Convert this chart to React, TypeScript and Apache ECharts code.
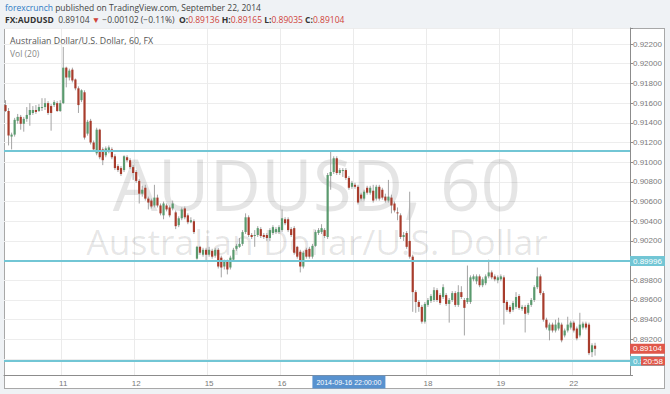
import React, { useEffect, useRef } from "react";
import * as echarts from "echarts";

type Bar = [number, number, number, number]; // open, close, low, high

const sep10: Bar[] = [
  [0.9158, 0.9152, 0.9151, 0.9163], [0.9152, 0.9127, 0.9117, 0.9155], [0.9126, 0.9128, 0.9113, 0.913],
  [0.9128, 0.9143, 0.9126, 0.9145], [0.9142, 0.9146, 0.9139, 0.9149], [0.9146, 0.9139, 0.9133, 0.9148],
  [0.9139, 0.9144, 0.9131, 0.9146], [0.9144, 0.9148, 0.9141, 0.9156], [0.9148, 0.9153, 0.9137, 0.916],
  [0.915, 0.9153, 0.9148, 0.9157], [0.9153, 0.9151, 0.9149, 0.9158], [0.9152, 0.9156, 0.9151, 0.9159],
  [0.9155, 0.9156, 0.9152, 0.9165], [0.9156, 0.916, 0.9153, 0.9165], [0.916, 0.915, 0.9148, 0.9162],
  [0.9157, 0.915, 0.9132, 0.9159], [0.9158, 0.9161, 0.9156, 0.9163], [0.916, 0.9152, 0.9151, 0.9162],
  [0.9152, 0.916, 0.9151, 0.9163],
];
const sep11: Bar[] = [
  [0.916, 0.9196, 0.9159, 0.9217], [0.9196, 0.9186, 0.9176, 0.9197], [0.9186, 0.9193, 0.9183, 0.9195],
  [0.9194, 0.9183, 0.9181, 0.9196], [0.9184, 0.9175, 0.9173, 0.9185], [0.9175, 0.9158, 0.915, 0.9177],
  [0.9163, 0.9173, 0.9161, 0.9174], [0.9171, 0.9125, 0.9123, 0.9173], [0.9129, 0.9141, 0.9127, 0.9143],
  [0.9142, 0.912, 0.9118, 0.9144], [0.912, 0.9113, 0.9111, 0.9122], [0.9109, 0.9133, 0.9107, 0.9135],
  [0.9133, 0.9105, 0.9103, 0.9134], [0.9113, 0.9102, 0.9097, 0.9115], [0.9107, 0.9114, 0.9105, 0.9116],
  [0.9112, 0.9115, 0.9109, 0.9117], [0.9113, 0.9105, 0.9103, 0.9115], [0.9106, 0.9094, 0.9092, 0.9108],
  [0.9096, 0.9092, 0.909, 0.9098], [0.9094, 0.9088, 0.9086, 0.9096], [0.9092, 0.9106, 0.909, 0.9107],
  [0.9105, 0.9102, 0.91, 0.9107], [0.9102, 0.9095, 0.9093, 0.9104], [0.9095, 0.9089, 0.9082, 0.9097],
];
const sep12: Bar[] = [
  [0.909, 0.9081, 0.9079, 0.9092], [0.9081, 0.9068, 0.9058, 0.9083], [0.9068, 0.9072, 0.9065, 0.9076],
  [0.9074, 0.9063, 0.9061, 0.9077], [0.9063, 0.9059, 0.9052, 0.9065], [0.9061, 0.9055, 0.9053, 0.9063],
  [0.9056, 0.9064, 0.9054, 0.9077], [0.9064, 0.9056, 0.9054, 0.9067], [0.9056, 0.9048, 0.9046, 0.9058],
  [0.9046, 0.9058, 0.9042, 0.906], [0.9056, 0.9052, 0.905, 0.9058], [0.9054, 0.9046, 0.9044, 0.9056],
  [0.9053, 0.9058, 0.9051, 0.9061], [0.9049, 0.9035, 0.9032, 0.9051], [0.9036, 0.9043, 0.9034, 0.9045],
  [0.9043, 0.9052, 0.9041, 0.9054], [0.9053, 0.9044, 0.9042, 0.9055], [0.9046, 0.9039, 0.9037, 0.9048],
  [0.9039, 0.9041, 0.9038, 0.9044], [0.904, 0.9029, 0.9027, 0.9042], [0.9002, 0.9014, 0.9001, 0.9015],
  [0.9014, 0.9008, 0.9006, 0.9015], [0.9006, 0.9011, 0.9004, 0.9013], [0.9011, 0.9006, 0.8999, 0.9013],
];
const sep15: Bar[] = [
  [0.9006, 0.9011, 0.9004, 0.9014], [0.901, 0.9004, 0.9002, 0.9012], [0.9005, 0.9011, 0.9003, 0.9013],
  [0.9011, 0.8994, 0.8992, 0.9013], [0.9003, 0.8993, 0.8983, 0.9005], [0.8994, 0.8999, 0.8991, 0.9001],
  [0.8999, 0.8991, 0.8986, 0.9001], [0.8993, 0.9003, 0.8991, 0.9005], [0.9001, 0.9011, 0.8999, 0.9013],
  [0.9012, 0.9015, 0.901, 0.9017], [0.9014, 0.9017, 0.9013, 0.9023], [0.9017, 0.9029, 0.9015, 0.9031],
  [0.9029, 0.9044, 0.9027, 0.9048], [0.9044, 0.9026, 0.9024, 0.9046], [0.9026, 0.9024, 0.9022, 0.9028],
  [0.9025, 0.9026, 0.9014, 0.9031], [0.9026, 0.9033, 0.9024, 0.9035], [0.9032, 0.9025, 0.9023, 0.9034],
  [0.9026, 0.9024, 0.9022, 0.9028], [0.9026, 0.9023, 0.902, 0.9028], [0.9023, 0.9031, 0.902, 0.9033],
  [0.9028, 0.9034, 0.9026, 0.9036], [0.9029, 0.9032, 0.9027, 0.9034], [0.9029, 0.9034, 0.9027, 0.9036],
];
const sep16: Bar[] = [
  [0.9031, 0.9043, 0.9029, 0.9052], [0.9042, 0.9038, 0.9036, 0.9044], [0.9042, 0.9031, 0.9029, 0.9044],
  [0.9032, 0.9026, 0.9024, 0.9034], [0.9033, 0.9008, 0.9006, 0.9035], [0.9014, 0.9004, 0.9002, 0.9015],
  [0.9009, 0.8994, 0.8988, 0.9011], [0.8994, 0.9008, 0.8992, 0.901], [0.9011, 0.9004, 0.9002, 0.9013],
  [0.9012, 0.9004, 0.9002, 0.9014], [0.9004, 0.9015, 0.9002, 0.9017], [0.9015, 0.9029, 0.9014, 0.9031],
  [0.9028, 0.9031, 0.9026, 0.9033], [0.9029, 0.9033, 0.9027, 0.9037], [0.9031, 0.9025, 0.9023, 0.9033],
  [0.9024, 0.9087, 0.9022, 0.9089], [0.9086, 0.909, 0.9072, 0.9111], [0.909, 0.9104, 0.9088, 0.9106],
  [0.9104, 0.9089, 0.9087, 0.9106], [0.9089, 0.9092, 0.9087, 0.9094], [0.9091, 0.9092, 0.9085, 0.9094],
  [0.9092, 0.9084, 0.9082, 0.9094], [0.9084, 0.9074, 0.9072, 0.9086], [0.9075, 0.9079, 0.9073, 0.9081],
];
const sep17: Bar[] = [
  [0.9077, 0.9075, 0.9073, 0.9079], [0.9075, 0.9059, 0.9057, 0.9077], [0.9067, 0.9063, 0.9061, 0.9069],
  [0.9063, 0.907, 0.9061, 0.9072], [0.9074, 0.9069, 0.9067, 0.9076], [0.9069, 0.9074, 0.9067, 0.9076],
  [0.9071, 0.9061, 0.9059, 0.9077], [0.9063, 0.9075, 0.9061, 0.9077], [0.9075, 0.9063, 0.9061, 0.9077],
  [0.9072, 0.9064, 0.9062, 0.9074], [0.9065, 0.9061, 0.9059, 0.9068], [0.9061, 0.9065, 0.9059, 0.9082],
  [0.9064, 0.9056, 0.9048, 0.9067], [0.9058, 0.9051, 0.9049, 0.906], [0.9049, 0.9048, 0.9041, 0.9054],
  [0.9046, 0.9024, 0.9022, 0.9048], [0.9024, 0.9026, 0.902, 0.9029], [0.9028, 0.9014, 0.9012, 0.903],
  [0.902, 0.9004, 0.9002, 0.907], [0.9004, 0.8968, 0.8948, 0.9006], [0.8968, 0.8958, 0.8947, 0.897],
  [0.8958, 0.8953, 0.8948, 0.896], [0.8953, 0.8938, 0.8936, 0.8955], [0.8938, 0.8956, 0.8936, 0.8958],
];
const sep18: Bar[] = [
  [0.8955, 0.896, 0.8953, 0.8962], [0.8959, 0.8964, 0.8957, 0.8966], [0.896, 0.897, 0.8958, 0.8973],
  [0.897, 0.896, 0.8958, 0.8972], [0.8965, 0.8957, 0.8955, 0.8967], [0.8963, 0.8973, 0.8961, 0.8976],
  [0.8965, 0.8956, 0.8954, 0.8967], [0.8956, 0.896, 0.8937, 0.8962], [0.896, 0.8967, 0.8958, 0.8969],
  [0.8967, 0.8955, 0.8953, 0.8969], [0.8955, 0.8968, 0.8953, 0.8975], [0.8968, 0.8963, 0.8961, 0.8974],
  [0.896, 0.8952, 0.8924, 0.8962], [0.8958, 0.8962, 0.8956, 0.8995], [0.8958, 0.8983, 0.8956, 0.8985],
  [0.8981, 0.8984, 0.8979, 0.8986], [0.8979, 0.8984, 0.8976, 0.8986], [0.8984, 0.8975, 0.8973, 0.8986],
  [0.8975, 0.8981, 0.8973, 0.8983], [0.8977, 0.8984, 0.8975, 0.8986], [0.8984, 0.8988, 0.8982, 0.9001],
  [0.8988, 0.8983, 0.8981, 0.899], [0.8984, 0.8981, 0.8979, 0.8986], [0.898, 0.8983, 0.8977, 0.8985],
];
const sep19: Bar[] = [
  [0.8981, 0.8984, 0.8979, 0.8986], [0.8983, 0.8957, 0.8935, 0.8985], [0.8958, 0.895, 0.8948, 0.896],
  [0.8953, 0.8948, 0.8946, 0.8955], [0.895, 0.8957, 0.8948, 0.8959], [0.8953, 0.8963, 0.8951, 0.8968],
  [0.8964, 0.8952, 0.895, 0.8966], [0.8951, 0.8953, 0.8949, 0.8955], [0.8953, 0.8946, 0.8927, 0.8955],
  [0.8947, 0.8955, 0.8945, 0.8957], [0.8955, 0.896, 0.8953, 0.8962], [0.896, 0.8973, 0.8958, 0.8975],
  [0.8973, 0.8984, 0.8971, 0.8993], [0.8984, 0.8967, 0.8965, 0.8986], [0.8967, 0.894, 0.8938, 0.8969],
  [0.894, 0.8932, 0.893, 0.8942], [0.8929, 0.8935, 0.8919, 0.8937], [0.8935, 0.8929, 0.8927, 0.8937],
  [0.8929, 0.8935, 0.8927, 0.894], [0.8931, 0.8937, 0.8929, 0.8942], [0.8935, 0.8919, 0.8917, 0.8937],
  [0.8924, 0.8929, 0.8922, 0.8931], [0.8929, 0.8935, 0.8927, 0.8943], [0.8932, 0.8937, 0.893, 0.8939],
];
const sep22: Bar[] = [
  [0.8937, 0.8929, 0.8927, 0.8939], [0.8931, 0.8921, 0.8919, 0.8933], [0.8924, 0.8935, 0.8922, 0.8947],
  [0.8932, 0.8936, 0.893, 0.8938], [0.8936, 0.8932, 0.893, 0.8938], [0.8935, 0.8906, 0.8904, 0.8937],
  [0.8907, 0.8914, 0.8902, 0.8916], [0.89136, 0.89104, 0.89035, 0.89165],
];

const sessions = [
  { date: "2014-09-10", firstHour: 5, bars: sep10 },
  { date: "2014-09-11", firstHour: 0, bars: sep11 },
  { date: "2014-09-12", firstHour: 0, bars: sep12 },
  { date: "2014-09-15", firstHour: 0, bars: sep15 },
  { date: "2014-09-16", firstHour: 0, bars: sep16 },
  { date: "2014-09-17", firstHour: 0, bars: sep17 },
  { date: "2014-09-18", firstHour: 0, bars: sep18 },
  { date: "2014-09-19", firstHour: 0, bars: sep19 },
  { date: "2014-09-22", firstHour: 0, bars: sep22 },
];
const emptyHoursAtRight = 11;

const levels = [0.9112, 0.89996, 0.8898];
const levelLabelShown = [false, true, true];
const lastPrice = 0.89104;
const countdown = "20:58";
const crosshairTime = "2014-09-16 22:00:00";
const yMin = 0.88838;
const yMax = 0.92363;
const yStep = 0.002;

const headerLine1 = ["forexcrunch", " published on TradingView.com, September 22, 2014"];
const symbolName = "FX:AUDUSD";
const quote = { last: "0.89104", change: "\u22120.00102 (\u22120.11%)", o: "0.89136", h: "0.89165", l: "0.89035", c: "0.89104" };
const chartTitle = "Australian Dollar/U.S. Dollar, 60, FX";
const volLabel = "Vol (20)";
const watermark1 = "AUDUSD, 60";
const watermark2 = "Australian Dollar/U.S. Dollar";

const UP = "#5a9a6e";
const DOWN = "#a83c2c";
const WICK = "#a4a4a4";
const LEVEL = "#72c6d5";
const RED_LABEL = "#e0574a";
const AXIS_FONT = "'Liberation Sans', Arial, sans-serif";
const UI_FONT = "'Open Sans', 'Liberation Sans', sans-serif";

const pad = (n: number) => String(n).padStart(2, "0");
const categories: string[] = [];
const barData: number[][] = [];
sessions.forEach((s) => {
  s.bars.forEach((b, k) => {
    categories.push(`${s.date} ${pad(s.firstHour + k)}:00:00`);
    barData.push([categories.length - 1, b[0], b[1], b[2], b[3]]);
  });
});
{
  const last = sessions[sessions.length - 1];
  for (let k = 0; k < emptyHoursAtRight; k++) {
    categories.push(`${last.date} ${pad(last.firstHour + last.bars.length + k)}:00:00`);
  }
}
const isDayStart = (idx: number) => idx > 0 && categories[idx].endsWith(" 00:00:00");

const priceBox = (text: string, bg: string) => ({
  show: true,
  position: "end",
  distance: 0,
  formatter: text,
  backgroundColor: bg,
  color: "#ffffff",
  opacity: 1,
  fontSize: 8,
  fontFamily: AXIS_FONT,
  padding: [1, 3, 0, 3],
  lineHeight: 9,
});

export default function App() {
  const ref = useRef<HTMLDivElement>(null);
  useEffect(() => {
    const el = ref.current;
    if (!el) return;
    const chart = echarts.init(el, null, { renderer: "svg" });
    const option: any = {
      animation: false,
      backgroundColor: "transparent",
      grid: { left: 4, right: 40, top: 28, bottom: 19, containLabel: false },
      xAxis: {
        type: "category",
        data: categories,
        boundaryGap: true,
        axisLine: { show: true, lineStyle: { color: "#8c8c8c" } },
        axisTick: { show: false },
        axisLabel: {
          interval: (idx: number) => isDayStart(idx),
          formatter: (v: string) => String(parseInt(v.slice(8, 10), 10)),
          color: "#7a7a7a",
          fontSize: 8,
          fontFamily: AXIS_FONT,
          margin: 4,
        },
        splitLine: { show: true, interval: (idx: number) => isDayStart(idx), lineStyle: { color: "#ebebeb", width: 1 } },
      },
      yAxis: {
        type: "value",
        position: "right",
        min: yMin,
        max: yMax,
        splitNumber: 18,
        minInterval: yStep,
        maxInterval: yStep,
        axisLine: { show: true, lineStyle: { color: "#8c8c8c" } },
        axisTick: { show: true, length: 3, lineStyle: { color: "#8c8c8c" } },
        axisLabel: {
          margin: 3,
          fontSize: 8,
          color: "#7a7a7a",
          fontFamily: AXIS_FONT,
          formatter: (v: number) => {
            const k = Math.round(v / yStep);
            if (Math.abs(v - k * yStep) > 1e-7) return "";
            if (v < 0.8915 || v > 0.9225) return "";
            if (Math.abs(v - levels[1]) < 0.0003) return "";
            return v.toFixed(5);
          },
        },
        splitLine: { show: true, lineStyle: { color: "#ededed", width: 1 } },
      },
      series: [
        {
          type: "custom",
          name: "AUDUSD",
          data: barData,
          encode: { x: 0, y: [1, 2, 3, 4] },
          z: 3,
          renderItem: (params: any, api: any) => {
            const i = api.value(0);
            const o = api.value(1);
            const c = api.value(2);
            const l = api.value(3);
            const h = api.value(4);
            const po = api.coord([i, o]);
            const yc = api.coord([i, c])[1];
            const yl = api.coord([i, l])[1];
            const yh = api.coord([i, h])[1];
            const x = po[0];
            const up = c >= o;
            const top = Math.min(po[1], yc);
            const ht = Math.max(Math.abs(po[1] - yc), 1);
            return {
              type: "group",
              children: [
                { type: "line", shape: { x1: x, y1: yh, x2: x, y2: yl }, style: { stroke: WICK, lineWidth: 1 } },
                { type: "rect", shape: { x: x - 1.1, y: top, width: 2.2, height: ht }, style: { fill: up ? UP : DOWN } },
              ],
            };
          },
        },
        {
          type: "line",
          name: "levels",
          data: [],
          z: 4,
          markLine: {
            silent: true,
            precision: 5,
            symbol: ["none", "none"],
            animation: false,
            lineStyle: { color: LEVEL, width: 2, type: "solid" },
            data: levels.map((v, k) => ({
              yAxis: v,
              label: levelLabelShown[k] ? priceBox(v.toFixed(5), LEVEL) : { show: false },
            })),
          },
        },
        {
          type: "line",
          name: "last",
          data: [],
          z: 5,
          markLine: {
            silent: true,
            precision: 5,
            symbol: ["none", "none"],
            animation: false,
            lineStyle: { color: "rgba(255,255,255,0)", width: 1, type: "solid" },
            data: [{ yAxis: lastPrice, label: priceBox(lastPrice.toFixed(5), RED_LABEL) }],
          },
        },
      ],
    };
    chart.setOption(option);

    const cx = chart.convertToPixel({ xAxisIndex: 0 }, crosshairTime) as number;
    const yCount = chart.convertToPixel({ yAxisIndex: 0 }, levels[2]) as number;

    const graphic: any[] = [
      {
        type: "text",
        id: "h1",
        x: 5,
        y: 7,
        style: {
          text: `{a|${headerLine1[0]}}{b|${headerLine1[1]}}`,
          verticalAlign: "middle",
          font: `8.5px ${UI_FONT}`,
          rich: {
            a: { fill: "#2d7bc4", fontSize: 8.5, fontFamily: UI_FONT },
            b: { fill: "#444444", fontSize: 8.5, fontFamily: UI_FONT },
          },
        },
      },
      {
        type: "text",
        id: "h2",
        x: 5,
        y: 19,
        style: {
          text: `{b|${symbolName}}{n|  ${quote.last} }{r|\u25BC}{n| ${quote.change}  }{b|O:}{r|${quote.o} }{b|H:}{r|${quote.h} }{b|L:}{r|${quote.l} }{b|C:}{r|${quote.c}}`,
          verticalAlign: "middle",
          rich: {
            b: { fill: "#333333", fontSize: 8.5, fontWeight: "bold", fontFamily: UI_FONT },
            n: { fill: "#444444", fontSize: 8.5, fontFamily: UI_FONT },
            r: { fill: "#d0433a", fontSize: 8.5, fontFamily: UI_FONT },
          },
        },
      },
      {
        type: "text",
        id: "title",
        x: 10,
        y: 41,
        style: { text: chartTitle, fill: "#555555", font: `8.8px ${UI_FONT}`, verticalAlign: "middle" },
      },
      {
        type: "text",
        id: "vol",
        x: 10,
        y: 53,
        style: { text: volLabel, fill: "#888888", font: `8.5px ${UI_FONT}`, verticalAlign: "middle" },
      },
      {
        type: "text",
        id: "wm1",
        x: 317,
        y: 183,
        z: 1,
        silent: true,
        style: { text: watermark1, fill: "rgba(0,0,0,0.1)", font: `71px ${UI_FONT}`, align: "center", verticalAlign: "middle" },
      },
      {
        type: "text",
        id: "wm2",
        x: 317,
        y: 240.5,
        z: 1,
        silent: true,
        style: { text: watermark2, fill: "rgba(0,0,0,0.1)", font: `35.5px ${UI_FONT}`, align: "center", verticalAlign: "middle" },
      },
      {
        type: "group",
        id: "cross",
        z: 100,
        children: [
          { type: "rect", shape: { x: cx - 36.5, y: 375.5, width: 73, height: 13 }, style: { fill: "#5892cf" }, z: 100 },
          {
            type: "text",
            x: cx,
            y: 382,
            z: 101,
            style: { text: crosshairTime, fill: "#ffffff", font: `7px ${AXIS_FONT}`, align: "center", verticalAlign: "middle" },
          },
        ],
      },
      {
        type: "group",
        id: "countdown",
        z: 100,
        children: [
          { type: "rect", shape: { x: 641, y: yCount - 4.5, width: 24, height: 9 }, style: { fill: RED_LABEL }, z: 100 },
          {
            type: "text",
            x: 653,
            y: yCount,
            z: 101,
            style: { text: countdown, fill: "#ffffff", font: `8px ${AXIS_FONT}`, align: "center", verticalAlign: "middle" },
          },
        ],
      },
    ];
    chart.setOption({ graphic });

    return () => {
      chart.dispose();
    };
  }, []);

  return (
    <div style={{ position: "fixed", left: 0, top: 0, width: 670, height: 394, background: "#eff2f5" }}>
      <div
        style={{
          position: "absolute",
          left: 4,
          top: 28,
          width: 661,
          height: 361,
          background: "#ffffff",
          border: "1px solid #a8a8a8",
          boxSizing: "border-box",
        }}
      />
      <div ref={ref} style={{ position: "absolute", left: 0, top: 0, width: 670, height: 394 }} />
    </div>
  );
}
